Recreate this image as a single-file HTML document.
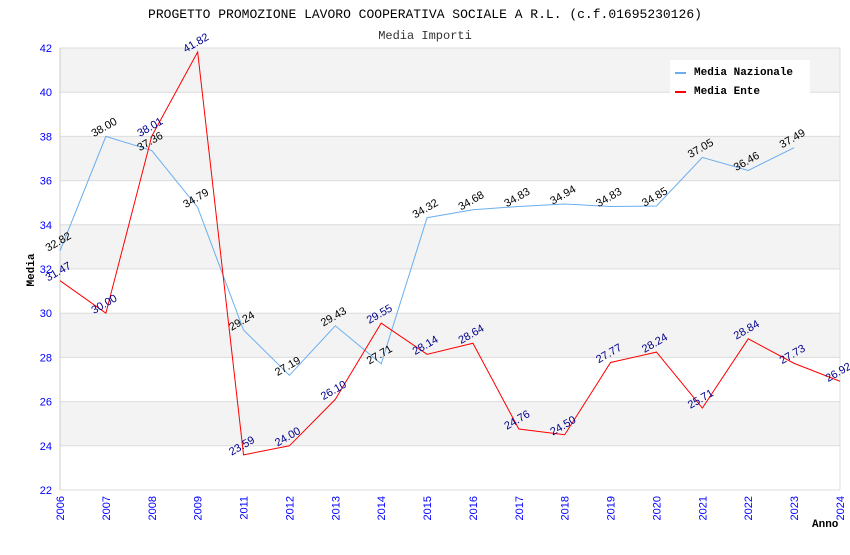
<!DOCTYPE html>
<html><head><meta charset="utf-8"><style>
body{margin:0;background:#fff;}
svg text{font-family:"Liberation Sans",sans-serif;}
.mono{font-family:"Liberation Mono",monospace !important;}
</style></head><body>
<svg id="c" width="850" height="550" xmlns="http://www.w3.org/2000/svg">
<text class="mono" x="425" y="18" text-anchor="middle" font-size="13" fill="#000">PROGETTO PROMOZIONE LAVORO COOPERATIVA SOCIALE A R.L. (c.f.01695230126)</text>
<text class="mono" x="425" y="39" text-anchor="middle" font-size="12" fill="#333">Media Importi</text>
<g id="plot"></g>
<text class="mono" x="34" y="270" text-anchor="middle" font-size="11" font-weight="bold" transform="rotate(-90 34 270)">Media</text>
<text class="mono" x="812" y="527" font-size="11" font-weight="bold">Anno</text>
<g>
<rect x="670" y="60" width="140" height="40" fill="#fff"/>
<line x1="675" y1="73" x2="686" y2="73" stroke="#6aaef0" stroke-width="2"/>
<text class="mono" x="694" y="75" font-size="11" font-weight="bold">Media Nazionale</text>
<line x1="675" y1="92" x2="686" y2="92" stroke="#f00" stroke-width="2"/>
<text class="mono" x="694" y="94" font-size="11" font-weight="bold">Media Ente</text>
</g>
</svg>
<script>
const years=["2006","2007","2008","2009","2011","2012","2013","2014","2015","2016","2017","2018","2019","2020","2021","2022","2023","2024"];
const nazionale=[32.82,38.00,37.36,34.79,29.24,27.19,29.43,27.71,34.32,34.68,34.83,34.94,34.83,34.85,37.05,36.46,37.49,null];
const ente=[31.47,30.00,38.01,41.82,23.59,24.00,26.10,29.55,28.14,28.64,24.76,24.50,27.77,28.24,25.71,28.84,27.73,26.92];
const yTicks=[22,24,26,28,30,32,34,36,38,40,42];
const L=60,R=840,T=48,B=490,yMin=22,yMax=42;
const X=i=>L+i*(R-L)/(years.length-1);
const Y=v=>B-(v-yMin)/(yMax-yMin)*(B-T);
const ns="http://www.w3.org/2000/svg",g=document.getElementById('plot');
function mk(t,a){const e=document.createElementNS(ns,t);for(const k in a)e.setAttribute(k,a[k]);g.appendChild(e);return e;}
for(let i=0;i<yTicks.length-1;i++){
 const r=mk('rect',{x:L,y:Y(yTicks[i+1]),width:R-L,height:Y(yTicks[i])-Y(yTicks[i+1]),fill:(i%2==1)?'#f3f3f3':'#fff'});
 
 
}
yTicks.forEach(v=>{
 const l=mk('line',{x1:L,x2:R,y1:Y(v),y2:Y(v),stroke:'#dcdcdc'});
 
 
 const t=mk('text',{x:L-8,y:Y(v)+4,'text-anchor':'end','font-size':11,fill:'#00f'});t.textContent=v;
 
 
});
mk('line',{x1:L,x2:L,y1:T,y2:B,stroke:'#ccc'});
mk('line',{x1:R,x2:R,y1:T,y2:B,stroke:'#ddd'});
years.forEach((y,i)=>{
 const t=mk('text',{x:X(i)+4,y:B+6,'text-anchor':'end','font-size':11,fill:'#00f',transform:`rotate(-90 ${X(i)+4} ${B+6})`});t.textContent=y;
 
 
});
function series(arr,color,lc,name){
 const pts=arr.map((v,i)=>v==null?null:[X(i),Y(v)]).filter(p=>p);
 const p=mk('polyline',{points:pts.map(p=>p.join(',')).join(' '),fill:'none',stroke:color,'stroke-width':1});
 
 
 arr.forEach((v,i)=>{if(v==null)return;
  const x=X(i),y=Y(v)-6;
  const t=mk('text',{x:x,y:y,'text-anchor':'middle','font-size':11,fill:lc,transform:`rotate(-30 ${x} ${y})`});
  t.textContent=v.toFixed(2);
  
  
 });
}
series(nazionale,'#6aaef0','#000','nazionale');
series(ente,'#f00','#00008b','ente');
</script>
</body></html>
